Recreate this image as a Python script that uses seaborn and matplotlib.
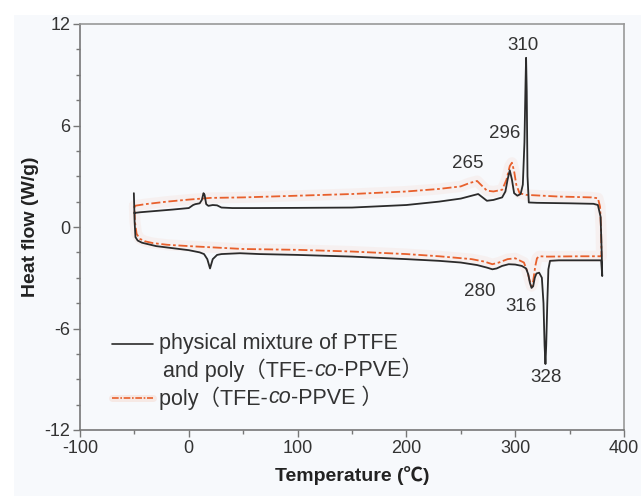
import matplotlib
matplotlib.use("Agg")
import matplotlib.pyplot as plt
from matplotlib.patches import Rectangle
from matplotlib.lines import Line2D
from matplotlib.offsetbox import (AnchoredOffsetbox, DrawingArea, HPacker,
                                  TextArea, VPacker)
from matplotlib.ticker import MultipleLocator
import seaborn as sns

# ── DATOS ────────────────────────────────────────────────────────────────────
# Mezcla física de PTFE y poly(TFE-co-PPVE): rama superior (calentamiento)
mix_up_t = [-50.5, -50, -45, -30, -15, 0, 4, 6, 10, 12, 13.5, 14.5, 16, 18,
            22, 26, 30, 40, 60, 100, 150, 200, 230, 250, 260, 266, 270, 274,
            280, 288, 291, 293, 295, 297, 299, 302, 305, 307, 308.5, 309.5,
            310, 310.6, 311.3, 312.5, 320, 350, 372, 376, 378.5, 379.5, 380]
mix_up_q = [2.0, 0.83, 0.87, 0.95, 1.03, 1.12, 1.3, 1.35, 1.4, 1.6, 2.0, 1.9,
            1.35, 1.25, 1.3, 1.28, 1.15, 1.12, 1.12, 1.13, 1.15, 1.3, 1.5,
            1.68, 1.85, 1.95, 1.75, 1.55, 1.6, 1.75, 2.1, 2.8, 3.35, 2.8, 2.0,
            1.85, 1.95, 2.5, 5.0, 8.5, 10.0, 8.0, 3.0, 1.45, 1.43, 1.4, 1.37,
            1.3, 0.6, -1.5, -2.9]
# rama inferior (enfriamiento), de 380 a -50
mix_dn_t = [380, 379, 370, 340, 332, 330.5, 329.5, 328.5, 327.8, 327, 326,
            324.5, 322, 319.5, 318, 316.5, 315, 313.5, 312, 310, 306, 300,
            294, 288, 283, 279, 274, 265, 250, 230, 200, 150, 100, 65, 47, 30,
            26, 22, 19.5, 17, 14, 10, 0, -15, -30, -43, -47, -49, -49.8, -50]
mix_dn_q = [-2.9, -1.97, -1.97, -1.97, -2.0, -2.5, -4.5, -7.0, -8.1, -7.0,
            -4.5, -3.0, -2.7, -2.75, -3.0, -3.5, -3.6, -3.3, -2.8, -2.45,
            -2.3, -2.22, -2.2, -2.3, -2.45, -2.5, -2.4, -2.25, -2.1, -2.0,
            -1.9, -1.75, -1.65, -1.6, -1.55, -1.6, -1.65, -1.9, -2.45, -1.9,
            -1.6, -1.5, -1.37, -1.25, -1.13, -0.93, -0.8, -0.6, 0.3, 0.83]

# poly(TFE-co-PPVE)
cop_up_t = [-50, -40, -20, 0, 20, 50, 100, 150, 200, 230, 250, 258, 265, 270,
            274, 280, 288, 292, 295, 297, 299, 301, 304, 310, 340, 370, 376,
            378, 379, 379.3]
cop_up_q = [1.25, 1.35, 1.5, 1.62, 1.72, 1.75, 1.85, 1.95, 2.1, 2.25, 2.4,
            2.6, 2.72, 2.4, 2.15, 2.1, 2.2, 2.8, 3.6, 3.8, 3.3, 2.5, 2.0, 1.9,
            1.8, 1.75, 1.7, 1.2, -0.3, -1.73]
cop_dn_t = [379, 360, 330, 322, 320, 318.5, 316.5, 315, 313.5, 311, 308, 300,
            293, 285, 279, 272, 260, 230, 200, 150, 100, 50, 0, -20, -33, -40,
            -45, -48, -49.5, -50]
cop_dn_q = [-1.73, -1.73, -1.75, -1.73, -1.85, -2.3, -3.2, -3.5, -3.2, -2.6,
            -2.1, -1.85, -1.9, -2.1, -2.2, -2.05, -1.9, -1.73, -1.6, -1.45,
            -1.35, -1.3, -1.13, -1.05, -0.95, -0.85, -0.7, -0.4, 0.3, 1.25]

# etiquetas de picos: (texto, T, Q)
peak_labels = ["310", "296", "265", "280", "316", "328"]
peak_t = [307, 290, 256, 267, 305.5, 328]
peak_q = [10.7, 5.5, 3.75, -3.8, -4.7, -8.9]

x_ticks = [-100, 0, 100, 200, 300, 400]
y_ticks = [-12, -6, 0, 6, 12]

# ── ESTILO ───────────────────────────────────────────────────────────────────
sns.set_style("ticks")
FAM = ["Liberation Sans", "Noto Sans CJK SC", "DejaVu Sans"]
plt.rcParams["font.family"] = FAM
plt.rcParams["axes.unicode_minus"] = False
BG = "#f7f9fc"
BLACK = "#2b2b2b"
RED = "#e8602c"
TXT = "#333333"

fig = plt.figure(figsize=(6.41, 4.96), dpi=100, facecolor="white")
fig.patches.append(Rectangle((14 / 641, 0), 1, (496 - 15) / 496,
                             transform=fig.transFigure, facecolor=BG,
                             edgecolor="none", zorder=-10))
ax = fig.add_axes([80 / 641, 66 / 496, 544 / 641, 406 / 496])
ax.set_facecolor(BG)

mix_t = mix_up_t + mix_dn_t
mix_q = mix_up_q + mix_dn_q
cop_t = cop_up_t + cop_dn_t
cop_q = cop_up_q + cop_dn_q

# halo de ruido alrededor de la curva roja
sns.lineplot(x=cop_t, y=cop_q, sort=False, estimator=None, ax=ax,
             color="#f3a98a", lw=8, alpha=0.1, solid_capstyle="round")
sns.lineplot(x=cop_t, y=cop_q, sort=False, estimator=None, ax=ax,
             color=RED, lw=1.3, dashes=False, linestyle=(0, (5, 1.5, 1.5, 1.5)))
sns.lineplot(x=mix_t, y=mix_q, sort=False, estimator=None, ax=ax,
             color=BLACK, lw=1.3)

for lab, t, q in zip(peak_labels, peak_t, peak_q):
    ax.text(t, q, lab, ha="center", va="center", fontsize=13.5, color=TXT)

ax.set_xlim(-100, 400)
ax.set_ylim(-12, 12)
ax.set_xticks(x_ticks)
ax.set_yticks(y_ticks)
ax.xaxis.set_minor_locator(MultipleLocator(50))
ax.yaxis.set_minor_locator(MultipleLocator(1.5))
ax.tick_params(which="major", direction="out", length=5, width=1,
               color="#777777", labelsize=13, labelcolor=TXT, pad=2)
ax.tick_params(which="minor", direction="out", length=3, width=1,
               color="#777777")
for s in ["left", "bottom"]:
    ax.spines[s].set_color("#777777")
    ax.spines[s].set_linewidth(1.2)
for s in ["top", "right"]:
    ax.spines[s].set_color("#999999")
    ax.spines[s].set_linewidth(1.2)

ax.set_xlabel("Temperature (℃)", fontsize=14, fontweight="bold",
              color="#222222", labelpad=7)
ax.set_ylabel("Heat flow (W/g)", fontsize=14, fontweight="bold",
              color="#222222", labelpad=4)

# ── LEYENDA CON "co" EN CURSIVA ──────────────────────────────────────────────
tp = dict(fontsize=15.5, color=TXT, family=FAM)
tpi = dict(fontsize=15.5, color=TXT, family=FAM, style="italic")


def handle(color, ls, width=30, halo=False):
    da = DrawingArea(width, 12, 0, 0)
    if halo:
        da.add_artist(Line2D([0, width], [6, 6], color="#f3a98a", lw=5,
                             alpha=0.2))
    if color is not None:
        da.add_artist(Line2D([0, width], [6, 6], color=color, lw=1.2,
                             linestyle=ls))
    return da


row1 = HPacker(children=[handle(BLACK, "-"),
                         TextArea(" physical mixture of PTFE", textprops=tp)],
               align="center", pad=0, sep=0)
row2 = HPacker(children=[handle(None, "-", width=33),
                         TextArea(" and poly（TFE-", textprops=tp),
                         TextArea("co", textprops=tpi),
                         TextArea("-PPVE）", textprops=tp)],
               align="center", pad=0, sep=0)
row3 = HPacker(children=[handle(RED, (0, (4, 1, 1, 1)), halo=True),
                         TextArea(" poly（TFE-", textprops=tp),
                         TextArea("co", textprops=tpi),
                         TextArea("-PPVE ）", textprops=tp)],
               align="center", pad=0, sep=0)
box = VPacker(children=[row1, row2, row3], align="left", pad=0, sep=3)
anch = AnchoredOffsetbox(loc="lower left", child=box, pad=0, borderpad=0,
                         frameon=False, bbox_to_anchor=(0.058, 0.05),
                         bbox_transform=ax.transAxes)
ax.add_artist(anch)

fig.savefig("out.png", dpi=100, facecolor=fig.get_facecolor())
